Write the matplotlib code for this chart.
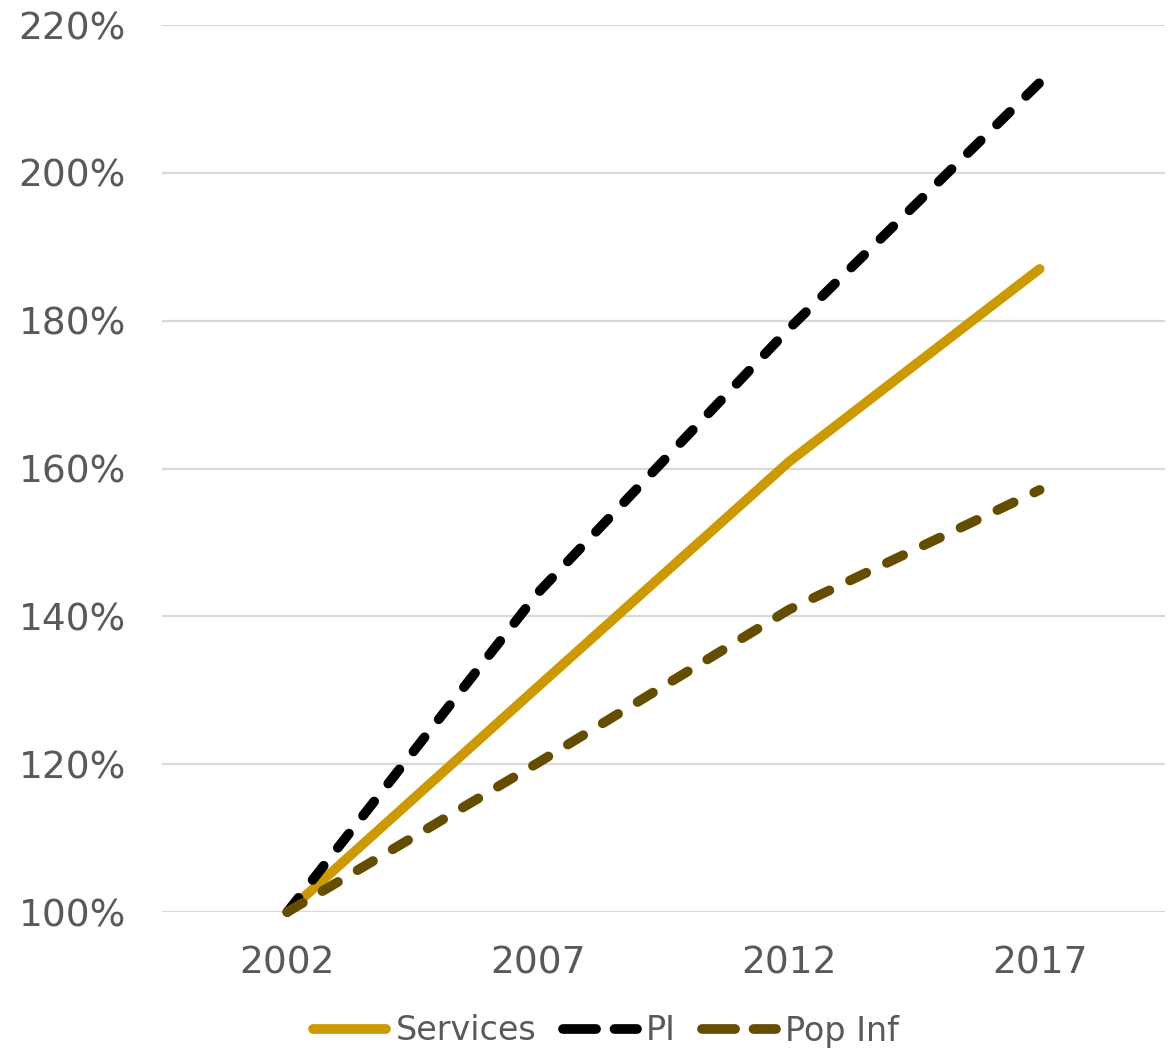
import matplotlib
matplotlib.use("Agg")
import matplotlib.pyplot as plt
from matplotlib.lines import Line2D
from matplotlib.ticker import FuncFormatter

years = ["2002", "2007", "2012", "2017"]
services = [100.0, 130.5, 160.9, 187.0]
pi = [100.0, 143.2, 178.9, 212.2]
pop_inf = [100.0, 120.2, 140.9, 157.1]
y_ticks = [100, 120, 140, 160, 180, 200, 220]

plt.rcParams["font.family"] = ["DejaVu Sans"]
text_color = "#595959"
c_services, c_pi, c_pop = "#CC9900", "#000000", "#654D00"

fig = plt.figure(figsize=(11.71, 10.51), dpi=100)
ax = fig.add_axes([162 / 1171, 1 - 912 / 1051, (1165 - 162) / 1171, (912 - 25) / 1051])

x = list(range(len(years)))
lw = 7.0
dash = (1.85, 2.35)
ax.plot(x, services, color=c_services, lw=lw, solid_capstyle="round",
        clip_on=False, zorder=3)
ax.plot(x, pi, color=c_pi, lw=lw, dashes=dash, dash_capstyle="round",
        clip_on=False, zorder=4)
ax.plot(x, pop_inf, color=c_pop, lw=lw, dashes=dash, dash_capstyle="round",
        clip_on=False, zorder=5)

ax.set_xlim(-0.5, len(years) - 0.5)
ax.set_ylim(100, 220)
ax.set_xticks(x)
ax.set_xticklabels(years)
ax.set_yticks(y_ticks)
ax.yaxis.set_major_formatter(FuncFormatter(lambda v, p: f"{v:.0f}%"))
ax.grid(axis="y", color="#D9D9D9", lw=1.6, zorder=0)
ax.set_axisbelow(True)
for s in ax.spines.values():
    s.set_visible(False)
ax.tick_params(axis="both", length=0, labelsize=27, colors=text_color)
ax.tick_params(axis="y", pad=26)
ax.tick_params(axis="x", pad=24)

# legend keys: two longer dashes per key
handles = [
    Line2D([], [], color=c_services, lw=lw, solid_capstyle="round"),
    Line2D([], [], color=c_pi, lw=lw, dashes=(3.4, 1.9), dash_capstyle="round"),
    Line2D([], [], color=c_pop, lw=lw, dashes=(3.4, 1.9), dash_capstyle="round"),
]
fig.legend(handles, ["Services", "PI", "Pop Inf"], loc="center",
           bbox_to_anchor=(606 / 1171, 1 - 1031 / 1051),
           ncol=3, frameon=False, fontsize=24, handlelength=2.2,
           handletextpad=0.28, columnspacing=0.8, labelcolor=text_color,
           borderpad=0, borderaxespad=0)

fig.savefig("out.png", dpi=100)
